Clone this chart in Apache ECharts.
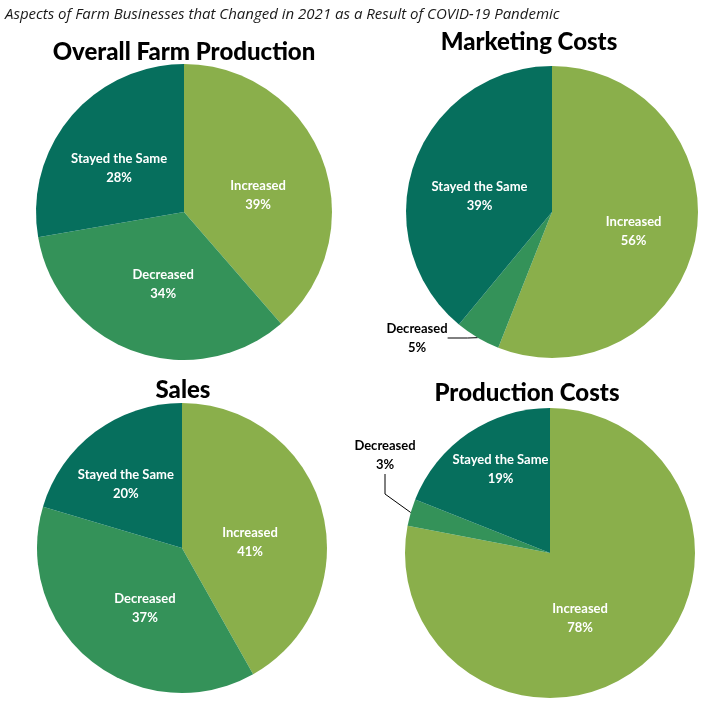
<!DOCTYPE html>
<html>
<head>
<meta charset="utf-8">
<script src="https://cdn.jsdelivr.net/npm/echarts@6/dist/echarts.min.js"></script>
<style>
  html, body { margin: 0; padding: 0; background: #ffffff; }
  #chart { width: 720px; height: 720px; }
</style>
</head>
<body>
<div id="chart"></div>
<script>
const categories = ['Increased', 'Decreased', 'Stayed the Same'];
const overallFarmProduction = [39, 34, 28];
const marketingCosts = [56, 5, 39];
const sales = [41, 37, 20];
const productionCosts = [78, 3, 19];
const chartTitles = ['Overall Farm Production', 'Marketing Costs', 'Sales', 'Production Costs'];
const mainTitle = 'Aspects of Farm Businesses that Changed in 2021 as a Result of COVID-19 Pandemic';

const colors = ['#8aaf4b', '#349259', '#066f5d'];
const FONT = 'Lato';

// label nudges (text placement only), per category: Increased, Decreased, Stayed the Same
const panels = [
  { values: overallFarmProduction, center: [184, 212], r: 148, title: [179, 35],
    nudge: [[2, 10], [5, 0], [-6, 6]] },
  { values: marketingCosts, center: [552, 212], r: 146, title: [524, 25], outside: 1, outPos: [417, 338],
    nudge: [[7, 5], [0, 0], [-1, 10]] },
  { values: sales, center: [182, 548], r: 145, title: [178, 373],
    nudge: [[-5, 13], [10, 1], [-11, -3]] },
  { values: productionCosts, center: [550, 553], r: 145, title: [522, 376], outside: 1, outPos: [385, 455],
    nudge: [[-18, 7], [0, 0], [-7, -21]] }
];

const titles = [{
  text: mainTitle, left: 0, top: 2,
  textStyle: { fontFamily: 'Open Sans', fontStyle: 'italic', fontWeight: 'normal', fontSize: 15, color: '#1a1a1a' }
}];
panels.forEach((p, i) => {
  titles.push({
    text: chartTitles[i], left: p.title[0], top: p.title[1], textAlign: 'center',
    textStyle: { fontFamily: FONT, fontWeight: 900, fontSize: 24, color: '#000000' }
  });
});

const series = panels.map((p, i) => ({
  type: 'pie',
  center: p.center,
  radius: p.r,
  startAngle: 90,
  clockwise: true,
  animation: false,
  silent: true,
  avoidLabelOverlap: false,
  itemStyle: { borderWidth: 0 },
  label: {
    position: 'inside',
    formatter: '{b}\n{c}%',
    color: '#ffffff',
    fontFamily: FONT,
    fontWeight: 'bold',
    fontSize: 13,
    lineHeight: 19
  },
  labelLine: { show: false },
  labelLayout: function (params) {
    if (p.outside !== undefined && params.dataIndex === p.outside) {
      return { x: p.outPos[0], y: p.outPos[1], align: 'center', verticalAlign: 'middle' };
    }
    const n = p.nudge[params.dataIndex];
    return { dx: n[0], dy: n[1] };
  },
  data: categories.map((c, j) => {
    const d = { name: c, value: p.values[j], itemStyle: { color: colors[j] } };
    if (p.outside === j) {
      d.label = { position: 'outside', color: '#000000', fontSize: 13 };
      d.labelLine = { show: true, length: 4, length2: 20, lineStyle: { color: '#000000', width: 1 } };
    }
    return d;
  })
}));

const chart = echarts.init(document.getElementById('chart'), null, { renderer: 'canvas' });
chart.setOption({
  backgroundColor: '#ffffff',
  animation: false,
  title: titles,
  series: series
});
</script>
</body>
</html>
